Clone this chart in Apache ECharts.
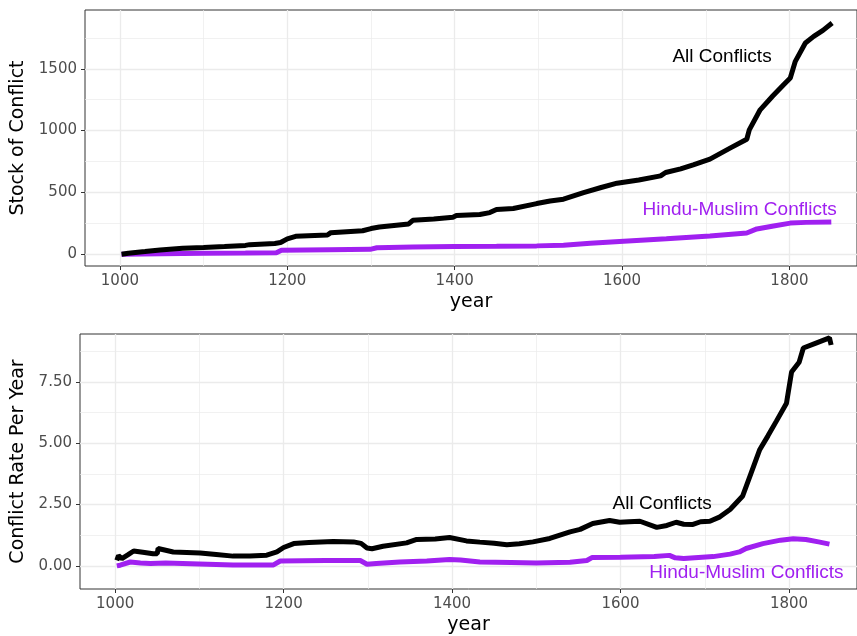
<!DOCTYPE html>
<html>
<head>
<meta charset="utf-8">
<script src="https://cdn.jsdelivr.net/npm/echarts@6/dist/echarts.min.js"></script>
<style>
html,body{margin:0;padding:0;background:#fff;}
#chart{width:857px;height:636px;}
</style>
</head>
<body>
<div id="chart"></div>
<script>
// ---- data ----
const allStock = [[1002,0],[1010,8],[1030,22],[1048,35],[1050,42],[1075,48],[1100,55],[1125,63],[1150,72],[1155,78],[1185,88],[1192,95],[1200,125],[1210,145],[1248,156],[1252,175],[1290,190],[1300,208],[1310,220],[1345,245],[1350,275],[1375,285],[1398,300],[1402,313],[1430,322],[1442,337],[1450,362],[1470,370],[1498,410],[1514,431],[1530,445],[1554,499],[1575,540],[1594,575],[1620,600],[1646,634],[1652,661],[1670,690],[1685,723],[1705,769],[1729,858],[1749,930],[1752,1006],[1765,1168],[1780,1280],[1793,1371],[1801,1425],[1807,1560],[1819,1708],[1829,1762],[1840,1810],[1851,1870]];
const hmStock = [[1002,0],[1050,5],[1100,8],[1150,10],[1187,13],[1193,33],[1250,37],[1299,40],[1307,53],[1350,58],[1400,62],[1450,65],[1498,68],[1530,74],[1562,89],[1602,106],[1653,125],[1705,148],[1749,172],[1761,205],[1781,229],[1801,252],[1820,258],[1850,262]];
const allRate = [[1002,0.23],[1004,0.42],[1008,0.3],[1015,0.45],[1022,0.61],[1035,0.55],[1045,0.5],[1050,0.5],[1051,0.71],[1069,0.57],[1085,0.55],[1101,0.53],[1120,0.47],[1140,0.40],[1160,0.40],[1180,0.44],[1192,0.57],[1200,0.75],[1212,0.91],[1230,0.95],[1259,1.0],[1283,0.98],[1292,0.92],[1299,0.73],[1305,0.7],[1318,0.80],[1346,0.94],[1358,1.08],[1380,1.1],[1397,1.16],[1417,1.02],[1433,0.97],[1450,0.92],[1465,0.86],[1480,0.9],[1496,0.98],[1516,1.12],[1540,1.39],[1552,1.49],[1567,1.73],[1587,1.85],[1599,1.78],[1610,1.80],[1623,1.82],[1643,1.57],[1655,1.65],[1666,1.78],[1675,1.70],[1686,1.69],[1695,1.8],[1706,1.82],[1718,2.0],[1730,2.3],[1745,2.85],[1753,3.6],[1765,4.72],[1775,5.3],[1785,5.9],[1797,6.63],[1803,7.9],[1812,8.3],[1817,8.88],[1832,9.08],[1848,9.29],[1850,9.0]];
const hmRate = [[1002,0],[1006,0.03],[1018,0.16],[1030,0.12],[1042,0.10],[1060,0.12],[1100,0.08],[1140,0.04],[1188,0.04],[1196,0.20],[1250,0.22],[1291,0.22],[1299,0.07],[1310,0.10],[1338,0.16],[1370,0.20],[1397,0.26],[1410,0.24],[1433,0.16],[1470,0.14],[1500,0.12],[1540,0.15],[1560,0.22],[1566,0.34],[1600,0.35],[1640,0.38],[1658,0.43],[1665,0.33],[1675,0.30],[1710,0.38],[1730,0.48],[1741,0.57],[1749,0.71],[1769,0.91],[1790,1.05],[1805,1.11],[1820,1.08],[1835,0.98],[1848,0.89]];

const xMajor = [1000,1200,1400,1600,1800];
const xMinor = [1100,1300,1500,1700];
const yTopMajor = [0,500,1000,1500];
const yTopMinor = [250,750,1250,1750];
const yBotMajor = [0,2.5,5,7.5];
const yBotMinor = [1.25,3.75,6.25,8.75];

// annotation: [text, year, value, colour, panel]
const annotations = [
  ['All Conflicts',1720,1595,'#000000',0],
  ['Hindu-Muslim Conflicts',1741,352,'#A020F0',0],
  ['All Conflicts',1650,2.52,'#000000',1],
  ['Hindu-Muslim Conflicts',1750,-0.28,'#A020F0',1]
];

// ---- chart ----
const X_MIN = 958.3, X_MAX = 1880.7;
const TICK_FONT = {fontFamily:'DejaVu Sans', fontSize:15, color:'#4d4d4d'};
const NAME_FONT = {fontFamily:'DejaVu Sans', fontSize:19, color:'#000000'};
const GRID_C = '#ebebeb';

function majorAxis(gridIndex, min, max, vals, fmt, extra){
  return Object.assign({
    type:'value', gridIndex, min, max,
    axisLine:{show:false, onZero:false},
    axisTick:{show:true, length:4, customValues:vals, lineStyle:{color:'#333333', width:1}},
    axisLabel:Object.assign({show:true, customValues:vals, margin:8, formatter:fmt}, TICK_FONT),
    splitLine:{show:true, lineStyle:{color:GRID_C, width:1.3}},
    minorTick:{show:false}
  }, extra||{});
}
function minorAxis(gridIndex, min, max, vals){
  return {
    type:'value', gridIndex, min, max,
    axisLine:{show:false, onZero:false},
    axisTick:{show:false, customValues:vals},
    axisLabel:{show:false, customValues:vals},
    splitLine:{show:true, lineStyle:{color:GRID_C, width:0.7}}
  };
}
const yearFmt = v => String(v);
const stockFmt = v => String(v);
const rateFmt = v => v.toFixed(2);

const xNameCfg = {name:'year', nameLocation:'middle', nameGap:27, nameTextStyle:NAME_FONT};

function annSeries(a){
  const idx = a[4] === 0 ? 0 : 2;
  return {type:'scatter', xAxisIndex:idx, yAxisIndex:idx, symbol:'circle', symbolSize:1, z:5, silent:true,
    itemStyle:{color:'rgba(0,0,0,0)'},
    emphasis:{disabled:true},
    data:[{name:a[0], value:[a[1],a[2]]}],
    label:{show:true, position:[0,0], align:'center', verticalAlign:'middle', formatter:'{b}',
      color:a[3], opacity:1, fontFamily:'Liberation Sans', fontSize:19, fontWeight:'normal',
      textBorderWidth:0}};
}

const option = {
  backgroundColor:'#ffffff',
  animation:false,
  grid:[
    {left:85, top:10, right:0, height:256, show:true, borderColor:'#333333', borderWidth:1, containLabel:false},
    {left:80, top:334, right:0, height:255, show:true, borderColor:'#333333', borderWidth:1, containLabel:false}
  ],
  xAxis:[
    majorAxis(0, X_MIN, X_MAX, xMajor, yearFmt, xNameCfg),
    minorAxis(0, X_MIN, X_MAX, xMinor),
    majorAxis(1, X_MIN, X_MAX, xMajor, yearFmt, xNameCfg),
    minorAxis(1, X_MIN, X_MAX, xMinor)
  ],
  yAxis:[
    majorAxis(0, -94.7, 1975, yTopMajor, stockFmt, {name:'Stock of Conflict', nameLocation:'middle', nameGap:57, nameTextStyle:NAME_FONT}),
    minorAxis(0, -94.7, 1975, yTopMinor),
    majorAxis(1, -0.94, 9.45, yBotMajor, rateFmt, {name:'Conflict Rate Per Year', nameLocation:'middle', nameGap:52, nameTextStyle:NAME_FONT}),
    minorAxis(1, -0.94, 9.45, yBotMinor)
  ],
  series:[
    {type:'line', xAxisIndex:0, yAxisIndex:0, data:allStock, showSymbol:false, lineStyle:{color:'#000000', width:5}, z:3},
    {type:'line', xAxisIndex:0, yAxisIndex:0, data:hmStock, showSymbol:false, lineStyle:{color:'#A020F0', width:5}, z:2},
    {type:'line', xAxisIndex:2, yAxisIndex:2, data:allRate, showSymbol:false, lineStyle:{color:'#000000', width:5}, z:3},
    {type:'line', xAxisIndex:2, yAxisIndex:2, data:hmRate, showSymbol:false, lineStyle:{color:'#A020F0', width:5}, z:2}
  ].concat(annotations.map(annSeries))
};
const chart = echarts.init(document.getElementById('chart'), null, {renderer:'canvas'});
chart.setOption(option);
</script>
</body>
</html>
